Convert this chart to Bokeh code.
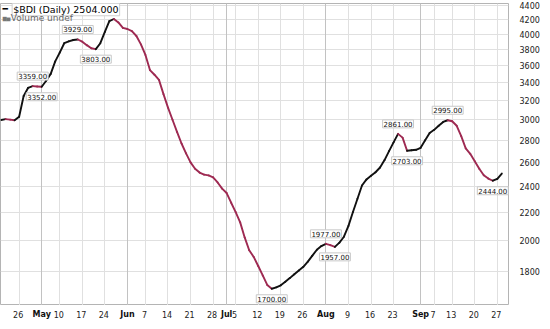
from bokeh.plotting import figure
from bokeh.layouts import column
from bokeh.models import Range1d, FixedTicker, Label, Grid, ColumnDataSource
from bokeh.core.properties import value
from bokeh.embed import file_html
from bokeh.resources import INLINE

# ---- trading days (2010) ----
apr_days = [20, 21, 22, 23, 26, 27, 28, 29, 30]
may_days = [4, 5, 6, 7, 10, 11, 12, 13, 14, 17, 18, 19, 20, 21, 24, 25, 26, 27, 28]
jun_days = [1, 2, 3, 4, 7, 8, 9, 10, 11, 14, 15, 16, 17, 18, 21, 22, 23, 24, 25, 28, 29, 30]
jul_days = [1, 2, 5, 6, 7, 8, 9, 12, 13, 14, 15, 16, 19, 20, 21, 22, 23, 26, 27, 28, 29, 30]
aug_days = [2, 3, 4, 5, 6, 9, 10, 11, 12, 13, 16, 17, 18, 19, 20, 23, 24, 25, 26, 27, 31]
sep_days = [1, 2, 3, 7, 8, 9, 10, 13, 14, 15, 16, 17, 20, 21, 22, 23, 24, 27, 28]

# ---- $BDI daily close ----
apr_vals = [2998, 3006, 3001, 2995, 3030, 3250, 3340, 3359, 3355]
may_vals = [3352, 3420, 3500, 3650, 3760, 3880, 3905, 3922, 3929, 3900, 3855, 3815,
            3803, 3880, 4030, 4180, 4209, 4160, 4085]
jun_vals = [4070, 4040, 3975, 3865, 3730, 3545, 3490, 3430, 3270, 3125, 3000, 2880,
            2770, 2680, 2600, 2545, 2512, 2495, 2488, 2472, 2430, 2380]
jul_vals = [2345, 2270, 2200, 2125, 2020, 1935, 1892, 1835, 1778, 1722, 1700, 1708,
            1720, 1740, 1762, 1785, 1808, 1830, 1862, 1900, 1938, 1962]
aug_vals = [1977, 1968, 1957, 1985, 2025, 2100, 2200, 2300, 2405, 2455, 2485, 2515,
            2555, 2620, 2700, 2780, 2861, 2825, 2703, 2708, 2712]
sep_vals = [2730, 2800, 2870, 2900, 2940, 2978, 2995, 2985, 2940, 2840, 2725, 2675,
            2610, 2545, 2490, 2462, 2444, 2460, 2504]

# annotated highs/lows: (month, day, side)
annotations = [("Apr", 29, "above"), ("May", 4, "below"), ("May", 14, "above"),
               ("May", 20, "below"), ("Jul", 15, "below"), ("Aug", 2, "above"),
               ("Aug", 4, "below"), ("Aug", 24, "above"), ("Aug", 26, "below"),
               ("Sep", 10, "above"), ("Sep", 24, "below")]

week_ticks = [("Apr", 26), ("May", 10), ("May", 17), ("May", 24), ("Jun", 7), ("Jun", 14),
              ("Jun", 21), ("Jun", 28), ("Jul", 5), ("Jul", 12), ("Jul", 19), ("Jul", 26),
              ("Aug", 9), ("Aug", 16), ("Aug", 23), ("Sep", 7), ("Sep", 13), ("Sep", 20),
              ("Sep", 27)]
month_ticks = [("May", 4), ("Jun", 1), ("Jul", 1), ("Aug", 2), ("Sep", 1)]
month_labels = ["May", "Jun", "Jul", "Aug", "Sep"]
y_ticks = [1800, 2000, 2200, 2400, 2600, 2800, 3000, 3200, 3400, 3600, 3800, 4000, 4200, 4400]

legend_title = "$BDI (Daily) 2504.000"
legend_volume = "Volume undef"

# ---- build ----
months = [("Apr", apr_days), ("May", may_days), ("Jun", jun_days),
          ("Jul", jul_days), ("Aug", aug_days), ("Sep", sep_days)]
dates = [(m, d) for m, days in months for d in days]
values = apr_vals + may_vals + jun_vals + jul_vals + aug_vals + sep_vals
pos = {dt: i for i, dt in enumerate(dates)}
n = len(values)

UP = "#111111"
DOWN = "#9e2a52"
seg = ColumnDataSource(dict(
    x0=list(range(n - 1)), x1=list(range(1, n)),
    y0=values[:-1], y1=values[1:],
    c=[UP if values[i + 1] >= values[i] else DOWN for i in range(n - 1)],
))

xr = Range1d(-0.13, 112.48)
p = figure(width=542, height=305, output_backend="svg", toolbar_location=None,
           y_axis_type="log", y_axis_location="right", x_axis_location=None,
           x_range=xr, y_range=Range1d(1607, 4434),
           min_border_left=0, min_border_top=3, min_border_right=32, min_border_bottom=0)
p.background_fill_color = "white"
p.border_fill_color = "white"
p.outline_line_color = "#b4b4b4"

wk = [pos[t] for t in week_ticks]
mo = [pos[t] for t in month_ticks]

# grids
p.xgrid.grid_line_color = None
p.ygrid.grid_line_color = "#e0e0e0"
p.add_layout(Grid(dimension=0, ticker=FixedTicker(ticks=wk), grid_line_color="#e0e0e0"))
p.add_layout(Grid(dimension=0, ticker=FixedTicker(ticks=mo), grid_line_color="#c2c2c2"))

p.segment("x0", "y0", "x1", "y1", source=seg, line_color="c", line_width=1.9,
          line_cap="round")

# y axis
p.yaxis.ticker = FixedTicker(ticks=y_ticks)
p.yaxis.major_label_overrides = {t: str(t) for t in y_ticks}
p.yaxis.axis_line_color = None
p.yaxis.major_tick_line_color = None
p.yaxis.minor_tick_line_color = None
p.yaxis.major_label_standoff = 5
p.yaxis.major_label_text_font = "DejaVu Sans"
p.yaxis.major_label_text_font_size = "8px"
p.yaxis.major_label_text_color = "#222222"

# high/low value boxes
for (m, d, side) in annotations:
    i = pos[(m, d)]
    p.add_layout(Label(x=i, y=values[i], text=f"{values[i]:.2f}",
                       y_offset=10 if side == "above" else -10,
                       text_font="DejaVu Sans", text_font_size="7px",
                       text_color="#111111", text_align="center",
                       text_baseline="middle", padding=1,
                       background_fill_color="white", background_fill_alpha=1.0,
                       border_line_color="#c8c8c8"))

# legend (top-left)
p.add_layout(Label(x=2.45, y=4349, text=legend_title, text_font="DejaVu Sans",
                   text_font_size="9.5px", text_color="#000000", text_align="left",
                   text_baseline="middle", padding=1,
                   background_fill_color="white", border_line_color="#d0d0d0"))
p.add_layout(Label(x=0.3, y=4349, text="\u2501", text_font="DejaVu Sans",
                   text_font_size="9px", text_color="#000000", text_align="left",
                   text_baseline="middle"))
p.add_layout(Label(x=0.35, y=4222, text="\u2586\u2585", text_font="DejaVu Sans",
                   text_font_size="5px", text_color="#777777", text_align="left",
                   text_baseline="middle"))
p.add_layout(Label(x=2.15, y=4222, text=legend_volume, text_font="DejaVu Sans",
                   text_font_size="9px", text_color="#666666", text_align="left",
                   text_baseline="middle"))

# ---- date label strip under the chart ----
s = figure(width=542, height=16, output_backend="svg", toolbar_location=None,
           x_axis_location=None, y_axis_location=None,
           x_range=xr, y_range=Range1d(0, 16),
           min_border_left=0, min_border_top=0, min_border_right=32, min_border_bottom=0)
s.outline_line_color = None
s.xgrid.grid_line_color = None
s.ygrid.grid_line_color = None
s.background_fill_color = "white"
s.border_fill_color = "white"
s.text(x=wk, y=[7] * len(wk), text=[str(t[1]) for t in week_ticks],
       text_font=value("DejaVu Sans"), text_font_size=value("8px"),
       text_color="#222222", text_align="center", text_baseline="middle", x_offset=-1)
s.text(x=mo, y=[7] * len(mo), text=month_labels,
       text_font=value("DejaVu Sans"), text_font_size=value("8px"),
       text_font_style="bold", text_color="#111111", text_align="center",
       text_baseline="middle")

layout = column(p, s, spacing=0)
open("out.html", "w").write(file_html(layout, INLINE))
